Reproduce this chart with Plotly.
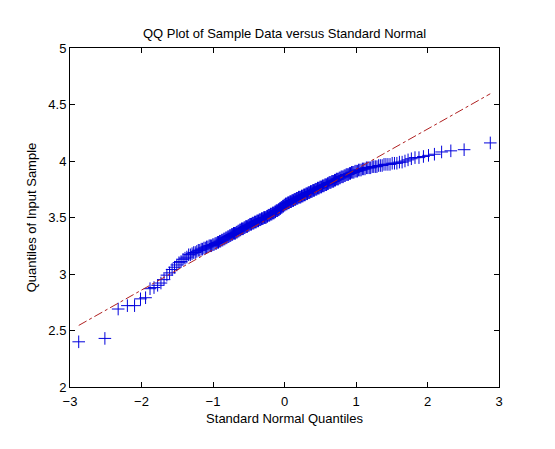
import plotly.graph_objects as go
from statistics import NormalDist

# Sorted sample values (n = 250)
sample_sorted = [
    2.40, 2.43, 2.69, 2.72, 2.72, 2.78, 2.79, 2.87, 2.88, 2.90,
    2.92, 2.95, 2.99, 3.01, 3.04, 3.06, 3.08, 3.10, 3.11, 3.13,
    3.14, 3.15, 3.17, 3.17, 3.18, 3.19, 3.19, 3.20, 3.21, 3.21,
    3.22, 3.22, 3.23, 3.23, 3.24, 3.24, 3.25, 3.25, 3.25, 3.26,
    3.26, 3.27, 3.27, 3.28, 3.28, 3.29, 3.29, 3.30, 3.30, 3.31,
    3.31, 3.32, 3.32, 3.33, 3.33, 3.34, 3.34, 3.35, 3.35, 3.36,
    3.36, 3.36, 3.37, 3.37, 3.38, 3.38, 3.39, 3.39, 3.40, 3.40,
    3.40, 3.41, 3.41, 3.42, 3.42, 3.42, 3.43, 3.43, 3.44, 3.44,
    3.44, 3.45, 3.45, 3.45, 3.46, 3.46, 3.46, 3.47, 3.47, 3.47,
    3.48, 3.48, 3.48, 3.49, 3.49, 3.49, 3.50, 3.50, 3.50, 3.50,
    3.51, 3.51, 3.52, 3.52, 3.52, 3.53, 3.53, 3.53, 3.54, 3.54,
    3.54, 3.55, 3.55, 3.56, 3.56, 3.56, 3.57, 3.57, 3.58, 3.58,
    3.59, 3.59, 3.60, 3.60, 3.61, 3.61, 3.62, 3.62, 3.62, 3.63,
    3.63, 3.63, 3.64, 3.64, 3.64, 3.65, 3.65, 3.65, 3.66, 3.66,
    3.66, 3.67, 3.67, 3.67, 3.68, 3.68, 3.68, 3.68, 3.69, 3.69,
    3.69, 3.70, 3.70, 3.70, 3.71, 3.71, 3.71, 3.72, 3.72, 3.72,
    3.73, 3.73, 3.73, 3.74, 3.74, 3.74, 3.75, 3.75, 3.75, 3.76,
    3.76, 3.76, 3.77, 3.77, 3.77, 3.78, 3.78, 3.78, 3.79, 3.79,
    3.79, 3.80, 3.80, 3.81, 3.81, 3.81, 3.82, 3.82, 3.82, 3.83,
    3.83, 3.84, 3.84, 3.84, 3.85, 3.85, 3.86, 3.86, 3.86, 3.87,
    3.87, 3.88, 3.88, 3.88, 3.89, 3.89, 3.90, 3.90, 3.90, 3.91,
    3.91, 3.91, 3.92, 3.92, 3.92, 3.93, 3.93, 3.93, 3.94, 3.94,
    3.94, 3.94, 3.95, 3.95, 3.95, 3.95, 3.96, 3.96, 3.96, 3.97,
    3.97, 3.97, 3.97, 3.98, 3.98, 3.98, 3.99, 3.99, 4.00, 4.01,
    4.02, 4.03, 4.03, 4.04, 4.05, 4.06, 4.08, 4.09, 4.10, 4.16,
]

# Reference line end points
line_x = [-2.878, 2.878]
line_y = [2.545, 4.595]

x_ticks = [-3, -2, -1, 0, 1, 2, 3]
y_ticks = [2, 2.5, 3, 3.5, 4, 4.5, 5]

# Standard normal plotting positions (i - 0.5) / n
n = len(sample_sorted)
nd = NormalDist()
theo_q = [nd.inv_cdf((i + 0.5) / n) for i in range(n)]

FONT = "Liberation Sans, Arial, sans-serif"
FS = 13

fig = go.Figure()
fig.add_trace(go.Scatter(
    x=theo_q, y=sample_sorted, mode="markers",
    marker=dict(symbol="cross-thin", size=9,
                line=dict(color="#0000dc", width=1)),
    showlegend=False,
))
fig.add_trace(go.Scatter(
    x=line_x, y=line_y, mode="lines",
    line=dict(color="#b02020", width=1, dash="dashdot"),
    showlegend=False,
))

axis_common = dict(
    showline=True, linecolor="black", linewidth=1, mirror="ticks",
    ticks="inside", ticklen=5, tickcolor="black",
    showgrid=False, zeroline=False,
    tickfont=dict(family=FONT, size=FS, color="black"),
)

# page body has an 8px offset; figure sized to fit the 555x449 window
fig.update_layout(
    width=547, height=441,
    margin=dict(l=62, r=56, t=40, b=62, autoexpand=False),
    paper_bgcolor="white", plot_bgcolor="white",
    font=dict(family=FONT, size=FS, color="black"),
    title=dict(text="QQ Plot of Sample Data versus Standard Normal",
               x=0.5, xref="paper", y=1 - 25 / 441, yref="container",
               yanchor="middle", font=dict(family=FONT, size=FS, color="black")),
    xaxis=dict(range=[-3, 3], tickvals=x_ticks, ticklabelstandoff=2,
               automargin=False,
               title=dict(text="Standard Normal Quantiles", standoff=6,
                          font=dict(family=FONT, size=FS)),
               **axis_common),
    yaxis=dict(range=[2, 5], tickvals=y_ticks,
               ticktext=["2", "2.5", "3", "3.5", "4", "4.5", "5"],
               automargin=False,
               title=dict(text="Quantiles of Input Sample", standoff=8,
                          font=dict(family=FONT, size=FS)),
               **axis_common),
)

fig.write_html("out.html")
